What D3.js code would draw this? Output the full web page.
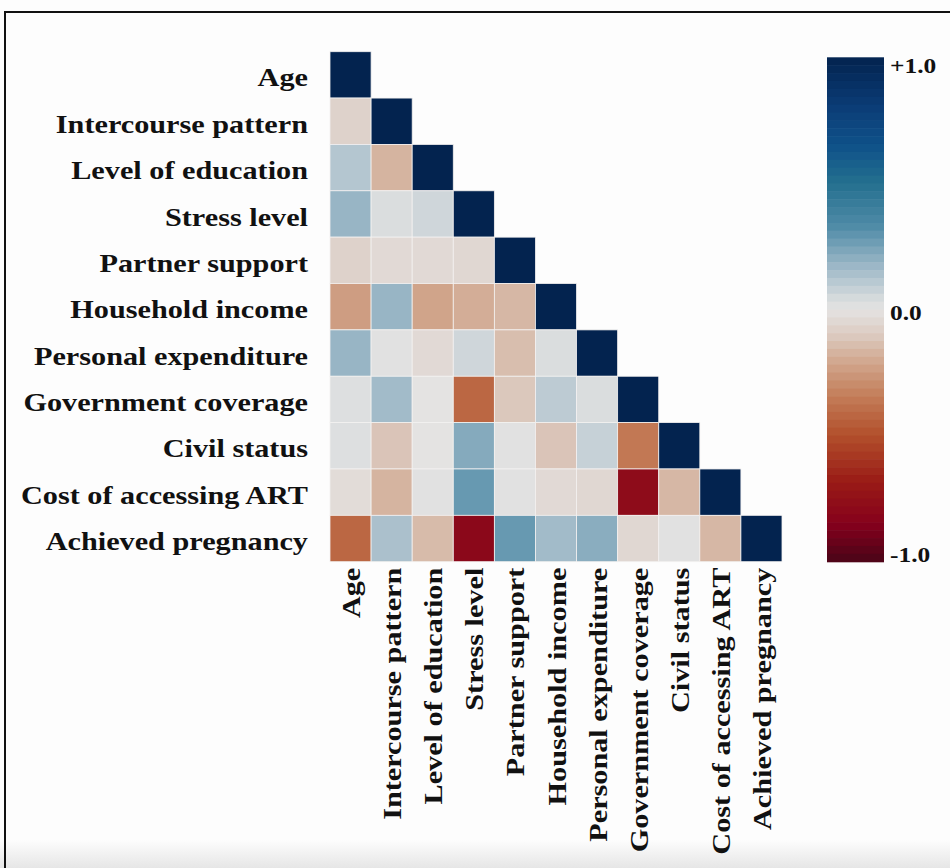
<!DOCTYPE html>
<html>
<head>
<meta charset="utf-8">
<script src="https://cdn.jsdelivr.net/npm/d3@7"></script>
<style>
  html, body { margin: 0; padding: 0; background: #fdfdfd; }
  svg { display: block; }
  .lbl { font-family: "Liberation Serif", "Times New Roman", serif; font-weight: bold; fill: #111; }
</style>
</head>
<body>
<div id="chart"></div>
<script>
const variables = [
  "Age", "Intercourse pattern", "Level of education", "Stress level",
  "Partner support", "Household income", "Personal expenditure",
  "Government coverage", "Civil status", "Cost of accessing ART",
  "Achieved pregnancy"
];

// lower triangle, row i holds correlations with variables 0..i-1
const corrRows = [
  [],
  [-0.07],
  [0.12, -0.17],
  [0.18, 0.03, 0.06],
  [-0.07, -0.04, -0.04, -0.05],
  [-0.24, 0.18, -0.22, -0.19, -0.16],
  [0.18, 0.01, -0.04, 0.06, -0.14, 0.03],
  [0.02, 0.16, 0.0, -0.42, -0.11, 0.10, 0.03],
  [0.02, -0.12, 0.0, 0.22, 0.01, -0.12, 0.08, -0.36],
  [-0.03, -0.17, 0.01, 0.28, 0.01, -0.04, -0.05, -0.78, -0.16],
  [-0.42, 0.14, -0.15, -0.80, 0.28, 0.16, 0.21, -0.05, 0.01, -0.16]
];

const colorbarTicks = [1, 0, -1];
const colorbarTickLabels = ["+1.0", "0.0", "-1.0"];

const width = 950, height = 868;
const stretch = 1.21; // reference face is wider than Liberation Serif

const cells = [];
corrRows.forEach((row, i) => {
  row.forEach((v, j) => cells.push({ row: variables[i], col: variables[j], value: v }));
  cells.push({ row: variables[i], col: variables[i], value: 1 });
});

const color = d3.scaleLinear()
  .domain([-1, -0.85, -0.68, -0.5, -0.34, -0.2, -0.1, 0, 0.05, 0.17, 0.33, 0.5, 0.65, 0.8, 1])
  .range(["#4a0418", "#85001c", "#9a1c16", "#b24f2c", "#c47e5a", "#d2aa92", "#dccbc1", "#e4e3e2",
          "#d3d9dc", "#9db8c7", "#4f8ba7", "#24708f", "#0f5189", "#0b3d77", "#03234f"])
  .interpolate(d3.interpolateRgb)
  .clamp(true);

const svg = d3.select("#chart").append("svg")
  .attr("width", width)
  .attr("height", height);

// page background and frame
const defs = svg.append("defs");
const grad = defs.append("linearGradient").attr("id", "shade").attr("x1", 0).attr("x2", 0).attr("y1", 0).attr("y2", 1);
grad.append("stop").attr("offset", "0%").attr("stop-color", "#fdfdfd");
grad.append("stop").attr("offset", "100%").attr("stop-color", "#e6e6e6");

svg.append("rect").attr("width", width).attr("height", height).attr("fill", "#fdfdfd");
svg.append("rect").attr("x", 0).attr("y", 840).attr("width", width).attr("height", 28).attr("fill", "url(#shade)");
svg.append("rect")
  .attr("x", 5).attr("y", 12)
  .attr("width", 960).attr("height", 880)
  .attr("fill", "none")
  .attr("stroke", "#111")
  .attr("stroke-width", 2);

const gridLeft = 330, gridTop = 51.7, gridW = 452, gridH = 510;

const x = d3.scaleBand().domain(variables).range([gridLeft, gridLeft + gridW]);
const y = d3.scaleBand().domain(variables).range([gridTop, gridTop + gridH]);

svg.append("g").selectAll("rect")
  .data(cells)
  .enter().append("rect")
  .attr("x", d => x(d.col))
  .attr("y", d => y(d.row))
  .attr("width", x.bandwidth())
  .attr("height", y.bandwidth())
  .attr("fill", d => color(d.value))
  .attr("stroke", "#f3f1f0")
  .attr("stroke-width", 0.8);

// row labels
svg.append("g").selectAll("text")
  .data(variables)
  .enter().append("text")
  .attr("class", "lbl")
  .attr("transform", d => `translate(308,${y(d) + y.bandwidth() / 2 + 3}) scale(${stretch},1)`)
  .attr("text-anchor", "end")
  .attr("dominant-baseline", "central")
  .style("font-size", "25px")
  .text(d => d);

// column labels
svg.append("g").selectAll("text")
  .data(variables)
  .enter().append("text")
  .attr("class", "lbl")
  .attr("transform", d => `translate(${x(d) + x.bandwidth() / 2 + 1},${gridTop + gridH + 6}) rotate(-90) scale(${stretch},1)`)
  .attr("text-anchor", "end")
  .attr("dominant-baseline", "central")
  .style("font-size", "25px")
  .text(d => d);

// colorbar
const cbX = 827, cbW = 57, cbTop = 57.3, cbBottom = 561.7;
const cbScale = d3.scaleLinear().domain([1, -1]).range([cbTop, cbBottom]);
const nBands = 64;
const bandH = (cbBottom - cbTop) / nBands;

svg.append("g").selectAll("rect")
  .data(d3.range(nBands))
  .enter().append("rect")
  .attr("x", cbX)
  .attr("y", i => cbTop + i * bandH)
  .attr("width", cbW)
  .attr("height", bandH + 0.6)
  .attr("fill", i => color(cbScale.invert(cbTop + (i + 0.5) * bandH)));

svg.append("g").selectAll("text")
  .data(colorbarTicks)
  .enter().append("text")
  .attr("class", "lbl")
  .attr("transform", d => {
    const ty = d === 1 ? cbScale(d) + 8 : d === -1 ? cbScale(d) - 7 : cbScale(d) + 3;
    return `translate(${cbX + cbW + 6},${ty}) scale(${stretch},1)`;
  })
  .attr("dominant-baseline", "central")
  .style("font-size", "21px")
  .text((d, i) => colorbarTickLabels[i]);
</script>
</body>
</html>
